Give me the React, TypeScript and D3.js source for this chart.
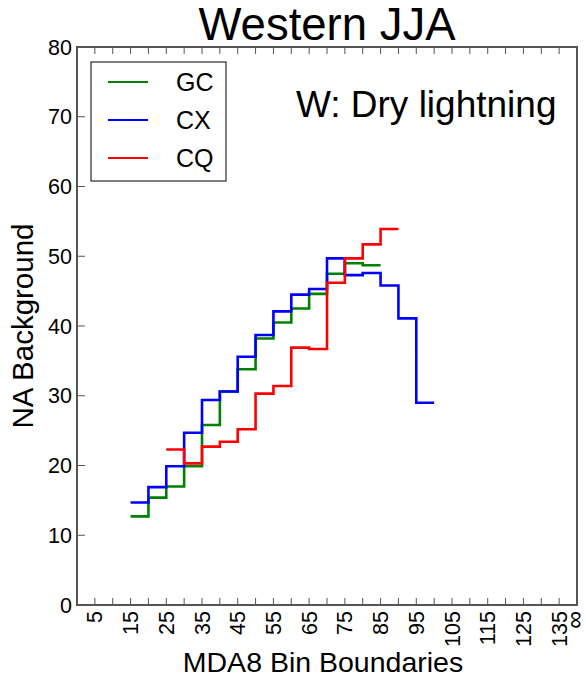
import React from "react";
import * as d3 from "d3";

const gcBins = [15, 20, 25, 30, 35, 40, 45, 50, 55, 60, 65, 70, 75, 80];
const gcValues = [12.7, 15.4, 17.0, 19.9, 25.8, 30.6, 33.8, 38.2, 40.5, 42.5, 44.6, 47.5, 49.0, 48.7];
const cxBins = [15, 20, 25, 30, 35, 40, 45, 50, 55, 60, 65, 70, 75, 80, 85, 90, 95];
const cxValues = [14.7, 16.9, 19.9, 24.7, 29.4, 30.6, 35.6, 38.7, 42.1, 44.5, 45.3, 49.7, 47.3, 47.6, 45.8, 41.1, 29.0];
const cqBins = [25, 30, 35, 40, 45, 50, 55, 60, 65, 70, 75, 80, 85];
const cqValues = [22.3, 20.3, 22.7, 23.4, 25.2, 30.3, 31.4, 36.9, 36.7, 46.2, 49.7, 51.7, 53.9];
const binWidth = 5;

const seriesNames = ["GC", "CX", "CQ"];
const seriesColors = ["#008000", "#0000ff", "#ff0000"];

const xTicks = [5, 10, 15, 20, 25, 30, 35, 40, 45, 50, 55, 60, 65, 70, 75, 80, 85, 90, 95, 100, 105, 110, 115, 120, 125, 130, 135];
const xTickLabels = ["5", "", "15", "", "25", "", "35", "", "45", "", "55", "", "65", "", "75", "", "85", "", "95", "", "105", "", "115", "", "125", "", "135"];
const xEndLabel = "∞";
const yTicks = [0, 10, 20, 30, 40, 50, 60, 70, 80];

const W = 586;
const H = 678;
const left = 77, right = 577, top = 47, bottom = 605;
const FONT = "'Liberation Sans', Arial, Helvetica, sans-serif";
const AXC = "#555555";

export default function App() {
  const x = d3.scaleLinear().domain([0, 140]).range([left, right]);
  const y = d3.scaleLinear().domain([0, 80]).range([bottom, top]);
  const line = d3
    .line<[number, number]>()
    .x((d) => x(d[0]))
    .y((d) => y(d[1]))
    .curve(d3.curveStepAfter);

  const mk = (bins: number[], vals: number[]): [number, number][] => {
    const pts: [number, number][] = bins.map((b, i) => [b, vals[i]]);
    pts.push([bins[bins.length - 1] + binWidth, vals[vals.length - 1]]);
    return pts;
  };
  const series = [mk(gcBins, gcValues), mk(cxBins, cxValues), mk(cqBins, cqValues)];

  return (
    <svg width={W} height={H} style={{ position: "absolute", left: 0, top: 0 }} fontFamily={FONT}>
      <rect x={0} y={0} width={W} height={H} fill="#fff" />
      <text x={(left + right) / 2} y={40} textAnchor="middle" fontSize={45.5}>
        Western JJA
      </text>
      {series.map((s, i) => (
        <path key={i} d={line(s) || ""} fill="none" stroke={seriesColors[i]} strokeWidth={2.6} />
      ))}
      {xTicks.map((t) => (
        <g key={"xt" + t}>
          <line x1={x(t)} x2={x(t)} y1={bottom} y2={bottom - 7} stroke={AXC} strokeWidth={1} />
          <line x1={x(t)} x2={x(t)} y1={top} y2={top + 7} stroke={AXC} strokeWidth={1} />
        </g>
      ))}
      {yTicks.slice(1, -1).map((t) => (
        <line key={"yt" + t} x1={left} x2={left + 8} y1={y(t)} y2={y(t)} stroke={AXC} strokeWidth={1} />
      ))}
      <rect x={left} y={top} width={right - left} height={bottom - top} fill="none" stroke={AXC} strokeWidth={2} />
      {xTicks.map((t, i) =>
        xTickLabels[i] ? (
          <text
            key={"xl" + t}
            transform={`translate(${x(t)},${bottom + 6}) rotate(-90)`}
            textAnchor="end"
            dy="0.35em"
            fontSize={21.5}
          >
            {xTickLabels[i]}
          </text>
        ) : null
      )}
      <text transform={`translate(${x(140)},${bottom + 6}) rotate(-90)`} textAnchor="end" dy="0.22em" fontSize={25}>
        {xEndLabel}
      </text>
      {yTicks.map((t) => (
        <text key={"yl" + t} x={left - 5} y={y(t)} dy="0.35em" textAnchor="end" fontSize={21.5}>
          {t}
        </text>
      ))}
      <text x={323} y={672} textAnchor="middle" fontSize={28.5}>
        MDA8 Bin Boundaries
      </text>
      <text transform={`translate(33,${(top + bottom) / 2}) rotate(-90)`} textAnchor="middle" fontSize={29.5}>
        NA Background
      </text>
      <text x={296} y={117} fontSize={37}>
        W: Dry lightning
      </text>
      <rect x={91} y={62} width={135} height={119} fill="#fff" stroke="#000" strokeWidth={1} />
      {seriesNames.map((n, i) => (
        <g key={n}>
          <line x1={108} x2={148} y1={82 + i * 38} y2={82 + i * 38} stroke={seriesColors[i]} strokeWidth={2} />
          <text x={176} y={82 + i * 38} dy="0.35em" fontSize={25}>
            {n}
          </text>
        </g>
      ))}
    </svg>
  );
}
